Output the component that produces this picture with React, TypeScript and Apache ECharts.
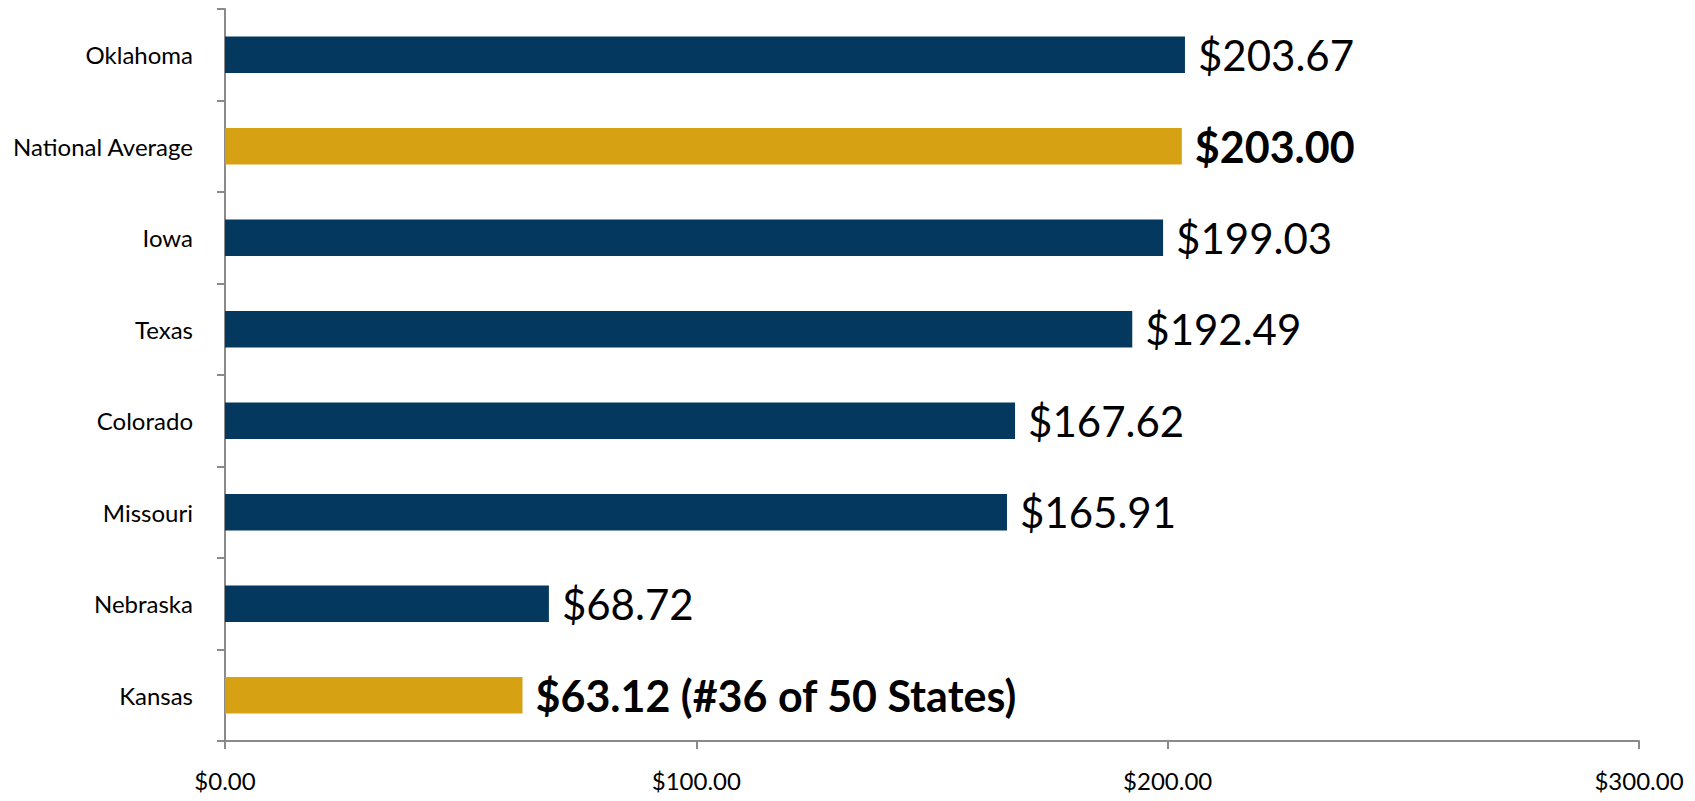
import React, { useEffect, useRef } from "react";
import * as echarts from "echarts";

const categories = [
  "Oklahoma",
  "National Average",
  "Iowa",
  "Texas",
  "Colorado",
  "Missouri",
  "Nebraska",
  "Kansas",
];
const values = [203.67, 203.0, 199.03, 192.49, 167.62, 165.91, 68.72, 63.12];
const highlighted = ["National Average", "Kansas"];
const kansasNote = " (#36 of 50 States)";
const xTicks = [0, 100, 200, 300];

const NAVY = "#04385f";
const GOLD = "#d6a112";
const AXIS = "#8a8a8a";
const FONT = "Lato, 'Open Sans', sans-serif";

export default function App() {
  const ref = useRef<HTMLDivElement>(null);

  useEffect(() => {
    if (!ref.current) return;
    const chart = echarts.init(ref.current, null, { renderer: "svg" });
    const data = categories.map((c, i) => {
      const hi = highlighted.includes(c);
      return {
        value: values[i],
        itemStyle: { color: hi ? GOLD : NAVY },
        label: {
          fontWeight: hi ? "bold" : "normal",
          fontSize: hi ? 43 : 42,
          formatter:
            "$" + values[i].toFixed(2) + (c === "Kansas" ? kansasNote : ""),
        },
      };
    });
    chart.setOption({
      animation: false,
      grid: { left: 225, right: 56, top: 9, bottom: 60, containLabel: false },
      xAxis: {
        type: "value",
        min: xTicks[0],
        max: xTicks[xTicks.length - 1],
        interval: 100,
        splitLine: { show: false },
        axisLine: { show: true, lineStyle: { color: AXIS, width: 2 } },
        axisTick: { show: true, length: 8, lineStyle: { color: AXIS, width: 2 } },
        axisLabel: {
          margin: 27,
          color: "#000",
          fontFamily: FONT,
          fontSize: 24,
          formatter: (v: number) => "$" + v.toFixed(2),
        },
      },
      yAxis: {
        type: "category",
        data: categories,
        inverse: true,
        axisLine: { show: true, lineStyle: { color: AXIS, width: 2 } },
        axisTick: { show: true, length: 8, lineStyle: { color: AXIS, width: 2 } },
        axisLabel: {
          margin: 32,
          color: "#000",
          fontFamily: FONT,
          fontSize: 24,
        },
      },
      series: [
        {
          type: "bar",
          data,
          barCategoryGap: "60%",
          label: {
            show: true,
            position: "right",
            distance: 13,
            color: "#000",
            fontFamily: FONT,
            fontSize: 42,
          },
        },
      ],
    });
    return () => chart.dispose();
  }, []);

  return <div ref={ref} style={{ width: 1695, height: 801, margin: -8 }} />;
}
